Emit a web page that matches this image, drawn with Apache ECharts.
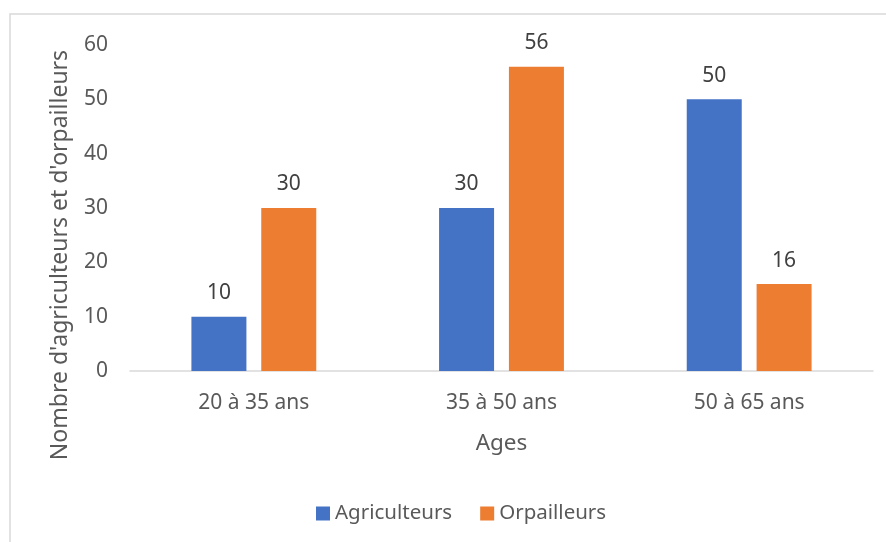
<!DOCTYPE html>
<html>
<head>
<meta charset="utf-8">
<script src="https://cdn.jsdelivr.net/npm/echarts@6/dist/echarts.min.js"></script>
<style>
  html, body { margin: 0; padding: 0; background: #fff; }
  #chart { width: 886px; height: 542px; }
</style>
</head>
<body>
<div id="chart"></div>
<script>
// Age groups and head-counts per activity
const categories = ['20 à 35 ans', '35 à 50 ans', '50 à 65 ans'];
const agriculteurs = [10, 30, 50];
const orpailleurs = [30, 56, 16];
const yTicks = [0, 10, 20, 30, 40, 50, 60];

const FONT = '"Noto Sans", "Open Sans", sans-serif';
const TEXT = '#595959';

const chart = echarts.init(document.getElementById('chart'), null, { renderer: 'canvas' });

const labelStyle = {
  show: true,
  position: 'top',
  distance: 13,
  color: '#404040',
  fontSize: 21,
  fontFamily: FONT
};

chart.setOption({
  animation: false,
  backgroundColor: '#fff',
  textStyle: { fontFamily: FONT },
  grid: { left: 130, right: 13, top: 45, bottom: 171, containLabel: false },
  graphic: [
    {
      type: 'rect',
      shape: { x: 10, y: 14, width: 900, height: 560 },
      style: { fill: 'none', stroke: '#D9D9D9', lineWidth: 1.5 },
      silent: true
    },
    {
      type: 'text',
      x: 60,
      y: 255,
      rotation: Math.PI / 2,
      style: {
        text: "Nombre d'agriculteurs et d'orpailleurs",
        fill: TEXT,
        fontSize: 23,
        fontFamily: FONT,
        align: 'center',
        verticalAlign: 'middle'
      }
    }
  ],
  legend: {
    top: 498,
    left: 311,
    itemWidth: 14,
    itemHeight: 14,
    itemGap: 28,
    icon: 'rect',
    textStyle: { color: TEXT, fontSize: 20.5, fontFamily: FONT },
    data: ['Agriculteurs', 'Orpailleurs']
  },
  xAxis: {
    type: 'category',
    data: categories,
    name: 'Ages',
    nameLocation: 'middle',
    nameGap: 61,
    nameTextStyle: { color: TEXT, fontSize: 22.5, fontFamily: FONT },
    axisLine: { lineStyle: { color: '#D9D9D9', width: 1.5 } },
    axisTick: { show: false },
    axisLabel: { color: TEXT, fontSize: 21, fontFamily: FONT, margin: 22 }
  },
  yAxis: {
    type: 'value',
    min: yTicks[0],
    max: yTicks[yTicks.length - 1],
    interval: 10,
    axisLine: { show: false },
    axisTick: { show: false },
    splitLine: { show: false },
    axisLabel: { color: TEXT, fontSize: 21, fontFamily: FONT, margin: 22 }
  },
  series: [
    {
      name: 'Agriculteurs',
      type: 'bar',
      data: agriculteurs,
      barWidth: 55,
      barGap: '27%',
      itemStyle: { color: '#4472C4' },
      label: labelStyle
    },
    {
      name: 'Orpailleurs',
      type: 'bar',
      data: orpailleurs,
      barWidth: 55,
      itemStyle: { color: '#ED7D31' },
      label: labelStyle
    }
  ]
});
</script>
</body>
</html>
